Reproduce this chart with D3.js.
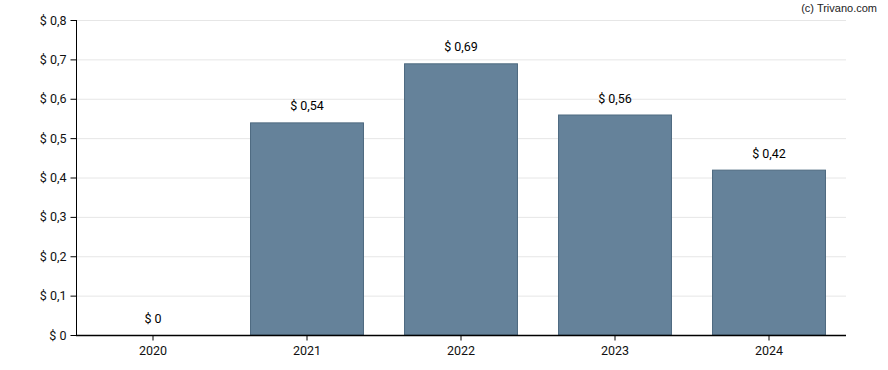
<!DOCTYPE html>
<html><head><meta charset="utf-8">
<script src="https://cdn.jsdelivr.net/npm/d3@7"></script>
<style>body{margin:0;background:#fff}svg{display:block}text{font-family:Roboto,"Open Sans",sans-serif}</style>
</head><body>
<svg id="c" width="888" height="370"></svg>
<script>
const categories = ["2020","2021","2022","2023","2024"];
const values = [0, 0.54, 0.69, 0.56, 0.42];
const yTicks = [0,0.1,0.2,0.3,0.4,0.5,0.6,0.7,0.8];

const svg = d3.select("#c");
const m = {l:76, r:846, t:20, b:335};
const x = d3.scaleBand().domain(categories).range([m.l, m.r]).paddingInner(0.26).paddingOuter(0.13);
const y = d3.scaleLinear().domain([0,0.8]).range([m.b, m.t]);
const fmt = v => "$ " + String(+v.toFixed(2)).replace(".", ",");

// grid
svg.append("g").selectAll("line").data(yTicks.slice(1)).join("line")
  .attr("x1", m.l).attr("x2", m.r).attr("y1", d=>y(d)+0.5).attr("y2", d=>y(d)+0.5)
  .attr("stroke", "#e6e6e6").attr("stroke-width",1);

// bars
svg.append("g").selectAll("rect").data(values.map((v,i)=>({c:categories[i],v}))).join("rect")
  .attr("x", d=>x(d.c)+0.5).attr("width", x.bandwidth()-1)
  .attr("y", d=>y(d.v)+0.5).attr("height", d=>Math.max(0,y(0)-y(d.v)-0.5))
  .attr("fill", "#65829a").attr("stroke", "#4e6a80").attr("stroke-width",1)
  .style("display", d=>d.v>0?null:"none");

// value labels
svg.append("g").selectAll("text").data(values.map((v,i)=>({c:categories[i],v}))).join("text")
  .attr("x", d=>x(d.c)+x.bandwidth()/2).attr("y", d=>y(d.v)-12)
  .attr("text-anchor","middle").attr("font-size",12.5).attr("fill","#000")
  .text(d=>fmt(d.v));

// y axis
const ya = svg.append("g").attr("transform",`translate(${m.l+0.5},0)`)
  .call(d3.axisLeft(y).tickValues(yTicks).tickSize(6).tickPadding(4).tickFormat(fmt));
ya.select(".domain").attr("stroke","#000").attr("d",`M0,${m.t}V${m.b}`);
ya.selectAll(".tick line").attr("stroke","#000");
ya.selectAll(".tick text").attr("font-size",12.5).attr("fill","#111").style("font-family","Roboto,sans-serif");

// x axis
const xa = svg.append("g").attr("transform",`translate(0,${m.b+0.5})`)
  .call(d3.axisBottom(x).tickSize(5).tickPadding(6));
xa.select(".domain").attr("stroke","#000").attr("stroke-width",1.5).attr("d",`M${m.l},0H${m.r}`);
xa.selectAll(".tick line").attr("stroke","#000");
xa.selectAll(".tick text").attr("font-size",12.5).attr("fill","#111").style("font-family","Roboto,sans-serif");

svg.append("text").attr("x",877).attr("y",12).attr("text-anchor","end")
  .attr("font-size",11).attr("fill","#222").style("font-family","Arial,'Liberation Sans',sans-serif")
  .text("(c) Trivano.com");
</script>
</body></html>
